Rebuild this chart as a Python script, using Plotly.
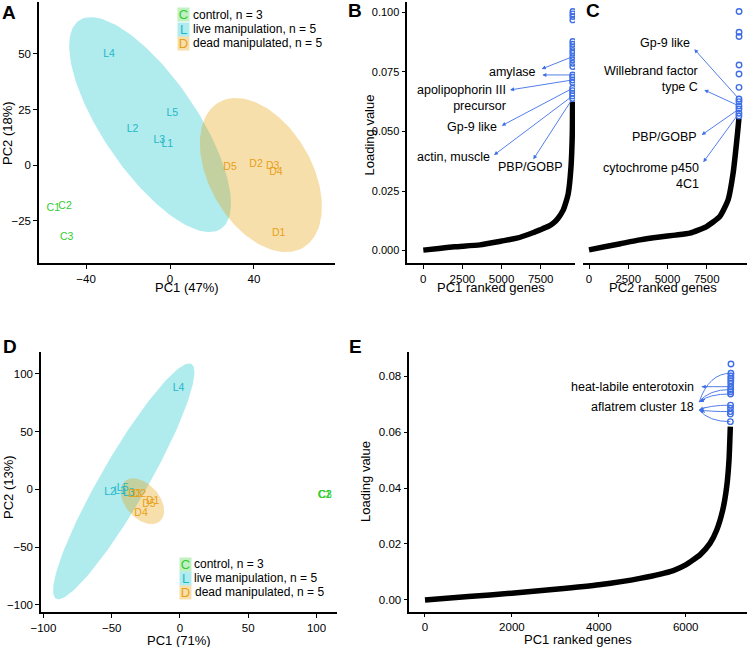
import numpy as np
import plotly.graph_objects as go

W, H = 749, 647
FONT = "Liberation Sans, Arial, sans-serif"

# ---------------- data ----------------
# A: PCA, PC1 (47%) vs PC2 (18%)
A_LABELS = ["C1", "C2", "C3", "L1", "L2", "L3", "L4", "L5", "D1", "D2", "D3", "D4", "D5"]
A_GROUP = ["C", "C", "C", "L", "L", "L", "L", "L", "D", "D", "D", "D", "D"]
A_PC1 = [-55.6, -50.0, -49.2, -1.3, -17.8, -5.1, -29.0, 1.1, 51.8, 41.0, 48.9, 50.5, 28.6]
A_PC2 = [-19.5, -18.5, -32.6, 9.1, 16.1, 10.9, 49.9, 23.3, -30.8, 0.3, -0.5, -3.3, -1.0]

# D: PCA, PC1 (71%) vs PC2 (13%)
D_LABELS = ["C3", "C1", "C2", "L1", "L2", "L3", "L4", "L5", "D1", "D2", "D3", "D4", "D5"]
D_GROUP = ["C", "C", "C", "L", "L", "L", "L", "L", "D", "D", "D", "D", "D"]
D_PC1 = [106.4, 105.8, 106.0, -44.0, -51.2, -37.5, -1.0, -42.0, -20.0, -29.8, -33.0, -28.5, -22.7]
D_PC2 = [-5.2, -5.0, -4.9, -2.0, -2.6, -3.5, 87.5, 1.0, -10.7, -4.3, -4.0, -20.8, -13.0]

# 95% ellipses: centre and conjugate semi-axes (data units)
ELL_A_LIVE = dict(c=(-9.5, 18.2), u=(33.8, -46.9), v=(18.5, 11.9))
ELL_A_DEAD = dict(c=(43.3, -4.5), u=(20.1, -32.7), v=(21.0, 11.6))
ELL_D_LIVE = dict(c=(-41.2, 6.9), u=(49.6, 101.7), v=(14.8, -10.1))
ELL_D_DEAD = dict(c=(-27.5, -10.3), u=(13.0, -17.2), v=(9.2, 9.8))

# B: PC1 ranked gene loadings
B_N = 9560
B_RANK = [0, 1000, 2000, 3623, 5000, 5968, 7000, 7457, 8000, 8307, 8600, 8946, 9100, 9265, 9438, 9521, 9538]
B_LOAD = [0.0002, 0.0009, 0.0016, 0.0024, 0.0040, 0.0052, 0.0075, 0.0087, 0.0102, 0.0115, 0.0135, 0.0171,
          0.0200, 0.0241, 0.0352, 0.0492, 0.0625]
B_TOP = [0.0638, 0.0649, 0.0660, 0.0671, 0.0681, 0.0705, 0.0716, 0.0727, 0.0737, 0.0772, 0.0786, 0.0800,
         0.0814, 0.0828, 0.0839, 0.0853, 0.0866, 0.0877, 0.0968, 0.0982, 0.0993, 0.1003]

# C: PC2 ranked gene loadings
C_N = 9560
C_RANK = [0, 1000, 2000, 3245, 4500, 5500, 6425, 7490, 8330, 8860, 9180, 9395, 9500, 9548]
C_LOAD = [0.0003, 0.0016, 0.0029, 0.0045, 0.0057, 0.0065, 0.0073, 0.0101, 0.0143, 0.0213, 0.0325,
          0.0450, 0.0520, 0.0555]
C_TOP = [0.0565, 0.0576, 0.0594, 0.0607, 0.0625, 0.0636, 0.0685, 0.0741, 0.0779, 0.0898, 0.0916, 0.1003]

# E: PC1 ranked gene loadings (second data set)
E_N = 7042
E_RANK = [0, 1000, 1995, 3000, 4005, 4948, 5715, 6000, 6329, 6559, 6714, 6852, 6944, 6997, 7027]
E_LOAD = [0.0000, 0.0012, 0.0024, 0.0038, 0.0054, 0.0077, 0.0105, 0.0125, 0.0161, 0.0202, 0.0250,
          0.0321, 0.0405, 0.0500, 0.0619]
E_TOP = [0.0637, 0.0664, 0.0673, 0.0685, 0.0696, 0.0736, 0.0744, 0.0752, 0.0762, 0.0774, 0.0783,
         0.0792, 0.0800, 0.0810, 0.0843]

# gene labels: text, loading of labelled gene
B_GENES = [("amylase", 0.0814), ("amylase", 0.0737), ("apolipophorin III<br>precursor", 0.0716),
           ("Gp-9 like", 0.0681), ("actin, muscle", 0.0649), ("PBP/GOBP", 0.0638)]
C_GENES = [("Gp-9 like", 0.0636), ("Willebrand factor<br>type C", 0.0607),
           ("PBP/GOBP", 0.0594), ("cytochrome p450<br>4C1", 0.0576)]
E_GENES = [("heat-labile enterotoxin", 0.0762), ("aflatrem cluster 18", 0.0810),
           ("aflatrem cluster 18", 0.0752), ("aflatrem cluster 18", 0.0736),
           ("aflatrem cluster 18", 0.0696), ("aflatrem cluster 18", 0.0673),
           ("aflatrem cluster 18", 0.0637)]

GROUP_NAMES = {"C": "control, n = 3", "L": "live manipulation, n = 5", "D": "dead manipulated, n = 5"}
TEXT_COL = {"C": "#33cc33", "L": "#1fb8c8", "D": "#e8a018"}
FILL_COL = {"C": "rgba(51,204,51,0.30)", "L": "rgba(0,190,200,0.31)", "D": "rgba(230,159,0,0.33)"}
BLUE = "#3f6fe6"


def fx(p):
    return p / W


def fy(p):
    return 1 - p / H


def ellipse(e, n=160):
    t = np.linspace(0, 2 * np.pi, n)
    x = e["c"][0] + e["u"][0] * np.cos(t) + e["v"][0] * np.sin(t)
    y = e["c"][1] + e["u"][1] * np.cos(t) + e["v"][1] * np.sin(t)
    return x, y


fig = go.Figure()

# ---- PCA panels (A: x/y, D: x4/y4) ----
for ax_id, ells in [("", [("L", ELL_A_LIVE), ("D", ELL_A_DEAD)]), ("4", [("L", ELL_D_LIVE), ("D", ELL_D_DEAD)])]:
    for g, e in ells:
        ex, ey = ellipse(e)
        fig.add_trace(go.Scatter(x=ex, y=ey, mode="lines", fill="toself", fillcolor=FILL_COL[g],
                                 line=dict(width=0), hoverinfo="skip", xaxis="x" + ax_id, yaxis="y" + ax_id))

for ax_id, labs, grp, xs, ys in [("", A_LABELS, A_GROUP, A_PC1, A_PC2), ("4", D_LABELS, D_GROUP, D_PC1, D_PC2)]:
    for g in ["C", "L", "D"]:
        idx = [i for i, gg in enumerate(grp) if gg == g]
        fig.add_trace(go.Scatter(
            x=[xs[i] for i in idx], y=[ys[i] for i in idx], text=[labs[i] for i in idx],
            mode="text", textposition="middle center",
            textfont=dict(size=10.5, color=TEXT_COL[g], family=FONT),
            xaxis="x" + ax_id, yaxis="y" + ax_id, name=GROUP_NAMES[g]))

# ---- loading curves (B: x2/y2, C: x3/y3, E: x5/y5) ----
for ax_id, rk, ld, top, n in [("2", B_RANK, B_LOAD, B_TOP, B_N), ("3", C_RANK, C_LOAD, C_TOP, C_N),
                              ("5", E_RANK, E_LOAD, E_TOP, E_N)]:
    fig.add_trace(go.Scatter(x=rk, y=ld, mode="lines",
                             line=dict(color="black", width=5.5, shape="spline", smoothing=0.5),
                             xaxis="x" + ax_id, yaxis="y" + ax_id))
    top_rank = list(range(n - len(top) + 1, n + 1))
    fig.add_trace(go.Scatter(x=top_rank, y=top, mode="markers",
                             marker=dict(symbol="circle-open", size=5.5, color=BLUE, line=dict(width=1.4)),
                             xaxis="x" + ax_id, yaxis="y" + ax_id))

annotations = []
shapes = []


def rank_of(top, n, val):
    return n - len(top) + 1 + top.index(val)


def label(ax_id, text, x, y, anchor="right"):
    annotations.append(dict(xref="x" + ax_id, yref="y" + ax_id, x=x, y=y, text=text, showarrow=False,
                            xanchor=anchor, yanchor="middle", align="right",
                            font=dict(size=12.5, color="black", family=FONT)))


def arrow(ax_id, tip, src):
    annotations.append(dict(xref="x" + ax_id, yref="y" + ax_id, axref="x" + ax_id, ayref="y" + ax_id,
                            x=tip[0], y=tip[1], ax=src[0], ay=src[1], text="", showarrow=True,
                            arrowhead=2, arrowsize=0.9, arrowwidth=0.9, arrowcolor=BLUE))


# B labels
B_TEXT_POS = [(7329, 0.0751), None, (5406, 0.0641), (4856, 0.0518), (4371, 0.0392), (6818, 0.0350)]
B_TIPS = [(7565, 0.0762), (7604, 0.0737), (5540, 0.0674), (5010, 0.0524), (4518, 0.0401), (7029, 0.0383)]
for (txt, val), pos, tip in zip(B_GENES, B_TEXT_POS, B_TIPS):
    if pos is not None:
        label("2", txt, pos[0], pos[1], "center" if txt == "PBP/GOBP" else "right")
    arrow("2", tip, (rank_of(B_TOP, B_N, val), val))

# C labels
C_TEXT_POS = [(6541, 0.0873), (7070, 0.0719), (7025, 0.0476), (7115, 0.0313)]
C_TIPS = [(6707, 0.0845), (7344, 0.0674), (7178, 0.0485), (7280, 0.0371)]
for (txt, val), pos, tip in zip(C_GENES, C_TEXT_POS, C_TIPS):
    label("3", txt, pos[0], pos[1])
    arrow("3", tip, (rank_of(C_TOP, C_N, val), val))

# E labels with curved connectors
label("5", "heat-labile enterotoxin", 6237, 0.0762)
label("5", "aflatrem cluster 18", 6237, 0.0690)
E_TIPS = [(6368, 0.0762), (6313, 0.0708), (6313, 0.0708), (6313, 0.0708),
          (6313, 0.0679), (6313, 0.0679), (6313, 0.0679)]
for (txt, val), tip in zip(E_GENES, E_TIPS):
    sx = rank_of(E_TOP, E_N, val)
    cx = tip[0] + 0.3 * (sx - tip[0])
    shapes.append(dict(type="path", xref="x5", yref="y5",
                       path=f"M {sx},{val} Q {cx},{val} {tip[0]},{tip[1]}",
                       line=dict(color=BLUE, width=0.9)))
    # small arrow head at the label end
    annotations.append(dict(xref="x5", yref="y5", x=tip[0], y=tip[1], ax=7,
                            ay=-3 if tip[1] < val else (3 if tip[1] > val else 0),
                            text="", showarrow=True, arrowhead=2, arrowsize=0.9, arrowwidth=0.9, arrowcolor=BLUE))

# axis titles
TITLES = [("PC1 (47%)", 187, 287, 0), ("PC2 (18%)", 8, 133, -90),
          ("PC1 ranked genes", 491, 287, 0), ("Loading value", 368.5, 135, -90),
          ("PC2 ranked genes", 663, 287, 0),
          ("PC1 (71%)", 179, 640, 0), ("PC2 (13%)", 8, 487, -90),
          ("PC1 ranked genes", 578, 639, 0), ("Loading value", 365, 482, -90)]
for t, x, y, ang in TITLES:
    annotations.append(dict(xref="paper", yref="paper", x=fx(x), y=fy(y), text=t, showarrow=False,
                            xanchor="center", yanchor="middle", textangle=ang,
                            font=dict(size=13, color="black", family=FONT)))

# panel letters
for t, x, y in [("A", 8.5, 12), ("B", 355, 10.5), ("C", 593, 10.5), ("D", 10, 346), ("E", 355, 346)]:
    annotations.append(dict(xref="paper", yref="paper", x=fx(x), y=fy(y), text=f"<b>{t}</b>", showarrow=False,
                            xanchor="center", yanchor="middle",
                            font=dict(size=19, color="black", family=FONT)))

# legends (A top right, D bottom right)
for key_x, text_x, rows in [(183, 190.5, [15, 29.3, 43.3]), (185.5, 192.5, [564.3, 578, 592.3])]:
    for g, ry in zip(["C", "L", "D"], rows):
        annotations.append(dict(xref="paper", yref="paper", x=fx(key_x), y=fy(ry), text=g, showarrow=False,
                                xanchor="center", yanchor="middle", bgcolor=FILL_COL[g], width=11, height=13,
                                borderpad=0, font=dict(size=13, color=TEXT_COL[g], family=FONT)))
        annotations.append(dict(xref="paper", yref="paper", x=fx(text_x), y=fy(ry), text=GROUP_NAMES[g],
                                showarrow=False, xanchor="left", yanchor="middle",
                                font=dict(size=12, color="black", family=FONT)))

axis = dict(showline=True, linecolor="black", linewidth=1.5, ticks="outside", ticklen=4, tickwidth=1.2,
            tickcolor="black", showgrid=False, zeroline=False, fixedrange=True, automargin=False,
            tickfont=dict(size=11.5, color="black", family=FONT))

fig.update_layout(
    width=W, height=H, margin=dict(l=0, r=0, t=0, b=0),
    paper_bgcolor="white", plot_bgcolor="white", showlegend=False,
    font=dict(family=FONT, color="black"),
    xaxis=dict(axis, domain=[fx(39), fx(335)], range=[-62.4, 78.6], tickvals=[-40, 0, 40], anchor="y"),
    yaxis=dict(axis, domain=[fy(263), fy(2)], range=[-44.1, 73.4], tickvals=[-25, 0, 25, 50], anchor="x"),
    xaxis2=dict(axis, domain=[fx(407.3), fx(575)], range=[-1022, 9693], tickvals=[0, 2500, 5000, 7500], anchor="y2"),
    yaxis2=dict(axis, domain=[fy(263), fy(2)], range=[-0.0052, 0.1043], tickvals=[0, 0.025, 0.05, 0.075, 0.1],
                tickformat=".3f", tickfont=dict(size=11, color="black", family=FONT), anchor="x2"),
    xaxis3=dict(axis, domain=[fx(583), fx(747)], range=[-382, 10064], tickvals=[0, 2500, 5000, 7500], anchor="y3"),
    yaxis3=dict(axis, domain=[fy(263), fy(2)], range=[-0.0052, 0.1043], showline=False, ticks="",
                showticklabels=False, anchor="x3"),
    xaxis4=dict(axis, domain=[fx(41), fx(337)], range=[-101.8, 115], tickvals=[-100, -50, 0, 50, 100], anchor="y4"),
    yaxis4=dict(axis, domain=[fy(612), fy(352)], range=[-106.3, 119], tickvals=[-100, -50, 0, 50, 100], anchor="x4"),
    xaxis5=dict(axis, domain=[fx(409.3), fx(746.7)], range=[-361, 7404], tickvals=[0, 2000, 4000, 6000], anchor="y5"),
    yaxis5=dict(axis, domain=[fy(611.7), fy(351.7)], range=[-0.0042, 0.0887], tickvals=[0, 0.02, 0.04, 0.06, 0.08],
                tickformat=".2f", anchor="x5"),
    annotations=annotations,
    shapes=shapes,
)

# page margin off so the 749x647 figure fills the window exactly
fig.write_html("out.html", config={"displayModeBar": False},
               post_script="document.body.style.margin='0';")
